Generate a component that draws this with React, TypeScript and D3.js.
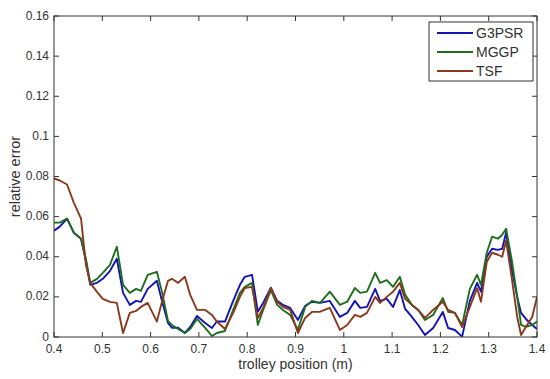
import React from "react";
import * as d3 from "d3";

const positions = [0.400,0.412,0.427,0.441,0.456,0.466,0.475,0.489,0.501,0.516,0.530,0.543,0.557,0.570,0.580,0.594,0.613,0.624,0.636,0.644,0.657,0.671,0.682,0.696,0.713,0.727,0.737,0.754,0.771,0.785,0.795,0.810,0.822,0.833,0.849,0.862,0.874,0.889,0.905,0.920,0.934,0.951,0.971,0.992,1.007,1.023,1.034,1.048,1.065,1.075,1.089,1.102,1.116,1.127,1.141,1.154,1.168,1.185,1.205,1.216,1.230,1.245,1.261,1.276,1.284,1.296,1.307,1.319,1.328,1.336,1.348,1.359,1.367,1.377,1.390,1.400];

const g3psr = [0.053,0.055,0.059,0.052,0.049,0.038,0.026,0.027,0.029,0.033,0.039,0.022,0.016,0.018,0.0175,0.024,0.028,0.0175,0.007,0.0046,0.0046,0.002,0.005,0.0105,0.007,0.0045,0.0077,0.0077,0.018,0.026,0.030,0.031,0.0126,0.017,0.0246,0.018,0.016,0.0145,0.0085,0.0155,0.0176,0.017,0.018,0.010,0.012,0.018,0.0145,0.015,0.024,0.018,0.019,0.015,0.0234,0.014,0.010,0.006,0.001,0.0045,0.0125,0.0045,0.0035,0.0002,0.018,0.027,0.0226,0.040,0.044,0.0434,0.044,0.052,0.0334,0.020,0.012,0.009,0.006,0.004];

const mggp = [0.057,0.057,0.059,0.052,0.049,0.039,0.027,0.029,0.032,0.036,0.045,0.026,0.022,0.024,0.023,0.031,0.0325,0.022,0.008,0.006,0.004,0.002,0.004,0.009,0.0045,0.0005,0.002,0.003,0.0135,0.022,0.025,0.027,0.006,0.0135,0.0234,0.016,0.0135,0.011,0.0035,0.015,0.018,0.017,0.0226,0.016,0.0176,0.0244,0.022,0.0226,0.032,0.027,0.0284,0.025,0.030,0.021,0.016,0.0135,0.0085,0.011,0.0194,0.0126,0.012,0.006,0.024,0.031,0.026,0.042,0.050,0.049,0.051,0.054,0.038,0.020,0.006,0.005,0.006,0.0077];

const tsf = [0.079,0.078,0.076,0.067,0.059,0.036,0.027,0.0225,0.019,0.0175,0.017,0.002,0.012,0.013,0.015,0.017,0.0077,0.018,0.028,0.029,0.027,0.030,0.021,0.0135,0.0135,0.011,0.0077,0.004,0.012,0.020,0.0244,0.025,0.0095,0.0145,0.0244,0.0176,0.015,0.0135,0.002,0.0095,0.0125,0.0126,0.0145,0.0035,0.006,0.011,0.010,0.012,0.020,0.017,0.020,0.0226,0.027,0.019,0.016,0.0135,0.0095,0.0135,0.0176,0.0135,0.012,0.005,0.015,0.0244,0.0176,0.0375,0.042,0.041,0.040,0.048,0.029,0.010,0.001,0.005,0.010,0.020];

const xTicks = [0.4,0.5,0.6,0.7,0.8,0.9,1.0,1.1,1.2,1.3,1.4];
const xTickLabels = ["0.4","0.5","0.6","0.7","0.8","0.9","1","1.1","1.2","1.3","1.4"];
const yTicks = [0,0.02,0.04,0.06,0.08,0.1,0.12,0.14,0.16];
const yTickLabels = ["0","0.02","0.04","0.06","0.08","0.1","0.12","0.14","0.16"];

const seriesNames = ["G3PSR","MGGP","TSF"];
const seriesColors = ["#1414b4","#1f6e1f","#8a3a1c"];

export default function App() {
  const W = 550, H = 379;
  const left = 54, right = 537, top = 16, bottom = 337;
  const x = d3.scaleLinear().domain([0.4, 1.4]).range([left, right]);
  const y = d3.scaleLinear().domain([0, 0.16]).range([bottom, top]);
  const seriesData = [g3psr, mggp, tsf];
  const line = d3.line<number>().x((_, i) => x(positions[i])).y(d => y(d));
  const font = "'Liberation Sans', Arial, sans-serif";
  const axisColor = "#333";
  const textColor = "#333";
  const tl = 5;
  const legX = 429, legY = 22, legW = 104, legH = 59;
  return (
    <svg width={W} height={H} style={{ position: "absolute", left: 0, top: 0, background: "#fff" }} fontFamily={font}>
      <rect x={0} y={0} width={W} height={H} fill="#fff" />
      <defs>
        <clipPath id="plotclip">
          <rect x={left} y={top} width={right - left} height={bottom - top} />
        </clipPath>
      </defs>
      <g clipPath="url(#plotclip)">
        {seriesData.map((s, k) => (
          <path key={k} d={line(s) || ""} fill="none" stroke={seriesColors[k]} strokeWidth={1.9} strokeLinejoin="round" />
        ))}
      </g>
      <rect x={left} y={top} width={right - left} height={bottom - top} fill="none" stroke={axisColor} strokeWidth={1} />
      {xTicks.map((t, i) => (
        <g key={"xt" + i}>
          <line x1={x(t)} x2={x(t)} y1={bottom} y2={bottom - tl} stroke={axisColor} />
          <line x1={x(t)} x2={x(t)} y1={top} y2={top + tl} stroke={axisColor} />
          <text x={x(t)} y={353} textAnchor="middle" fontSize={12} fill={textColor}>{xTickLabels[i]}</text>
        </g>
      ))}
      {yTicks.map((t, i) => (
        <g key={"yt" + i}>
          <line x1={left} x2={left + tl} y1={y(t)} y2={y(t)} stroke={axisColor} />
          <line x1={right} x2={right - tl} y1={y(t)} y2={y(t)} stroke={axisColor} />
          <text x={49} y={y(t) + 3.5} textAnchor="end" fontSize={12} fill={textColor}>{yTickLabels[i]}</text>
        </g>
      ))}
      <text x={(left + right) / 2} y={369} textAnchor="middle" fontSize={14} fill={textColor}>trolley position (m)</text>
      <text transform={`translate(20,${(top + bottom) / 2}) rotate(-90)`} textAnchor="middle" fontSize={14.5} fill={textColor}>relative error</text>
      <rect x={legX} y={legY} width={legW} height={legH} fill="#fff" stroke={axisColor} strokeWidth={1} />
      {seriesNames.map((n, k) => (
        <g key={"lg" + k}>
          <line x1={437} x2={473} y1={legY + 11 + k * 19} y2={legY + 11 + k * 19} stroke={seriesColors[k]} strokeWidth={1.9} />
          <text x={476} y={legY + 16 + k * 19} fontSize={14} fill={textColor}>{n}</text>
        </g>
      ))}
    </svg>
  );
}
